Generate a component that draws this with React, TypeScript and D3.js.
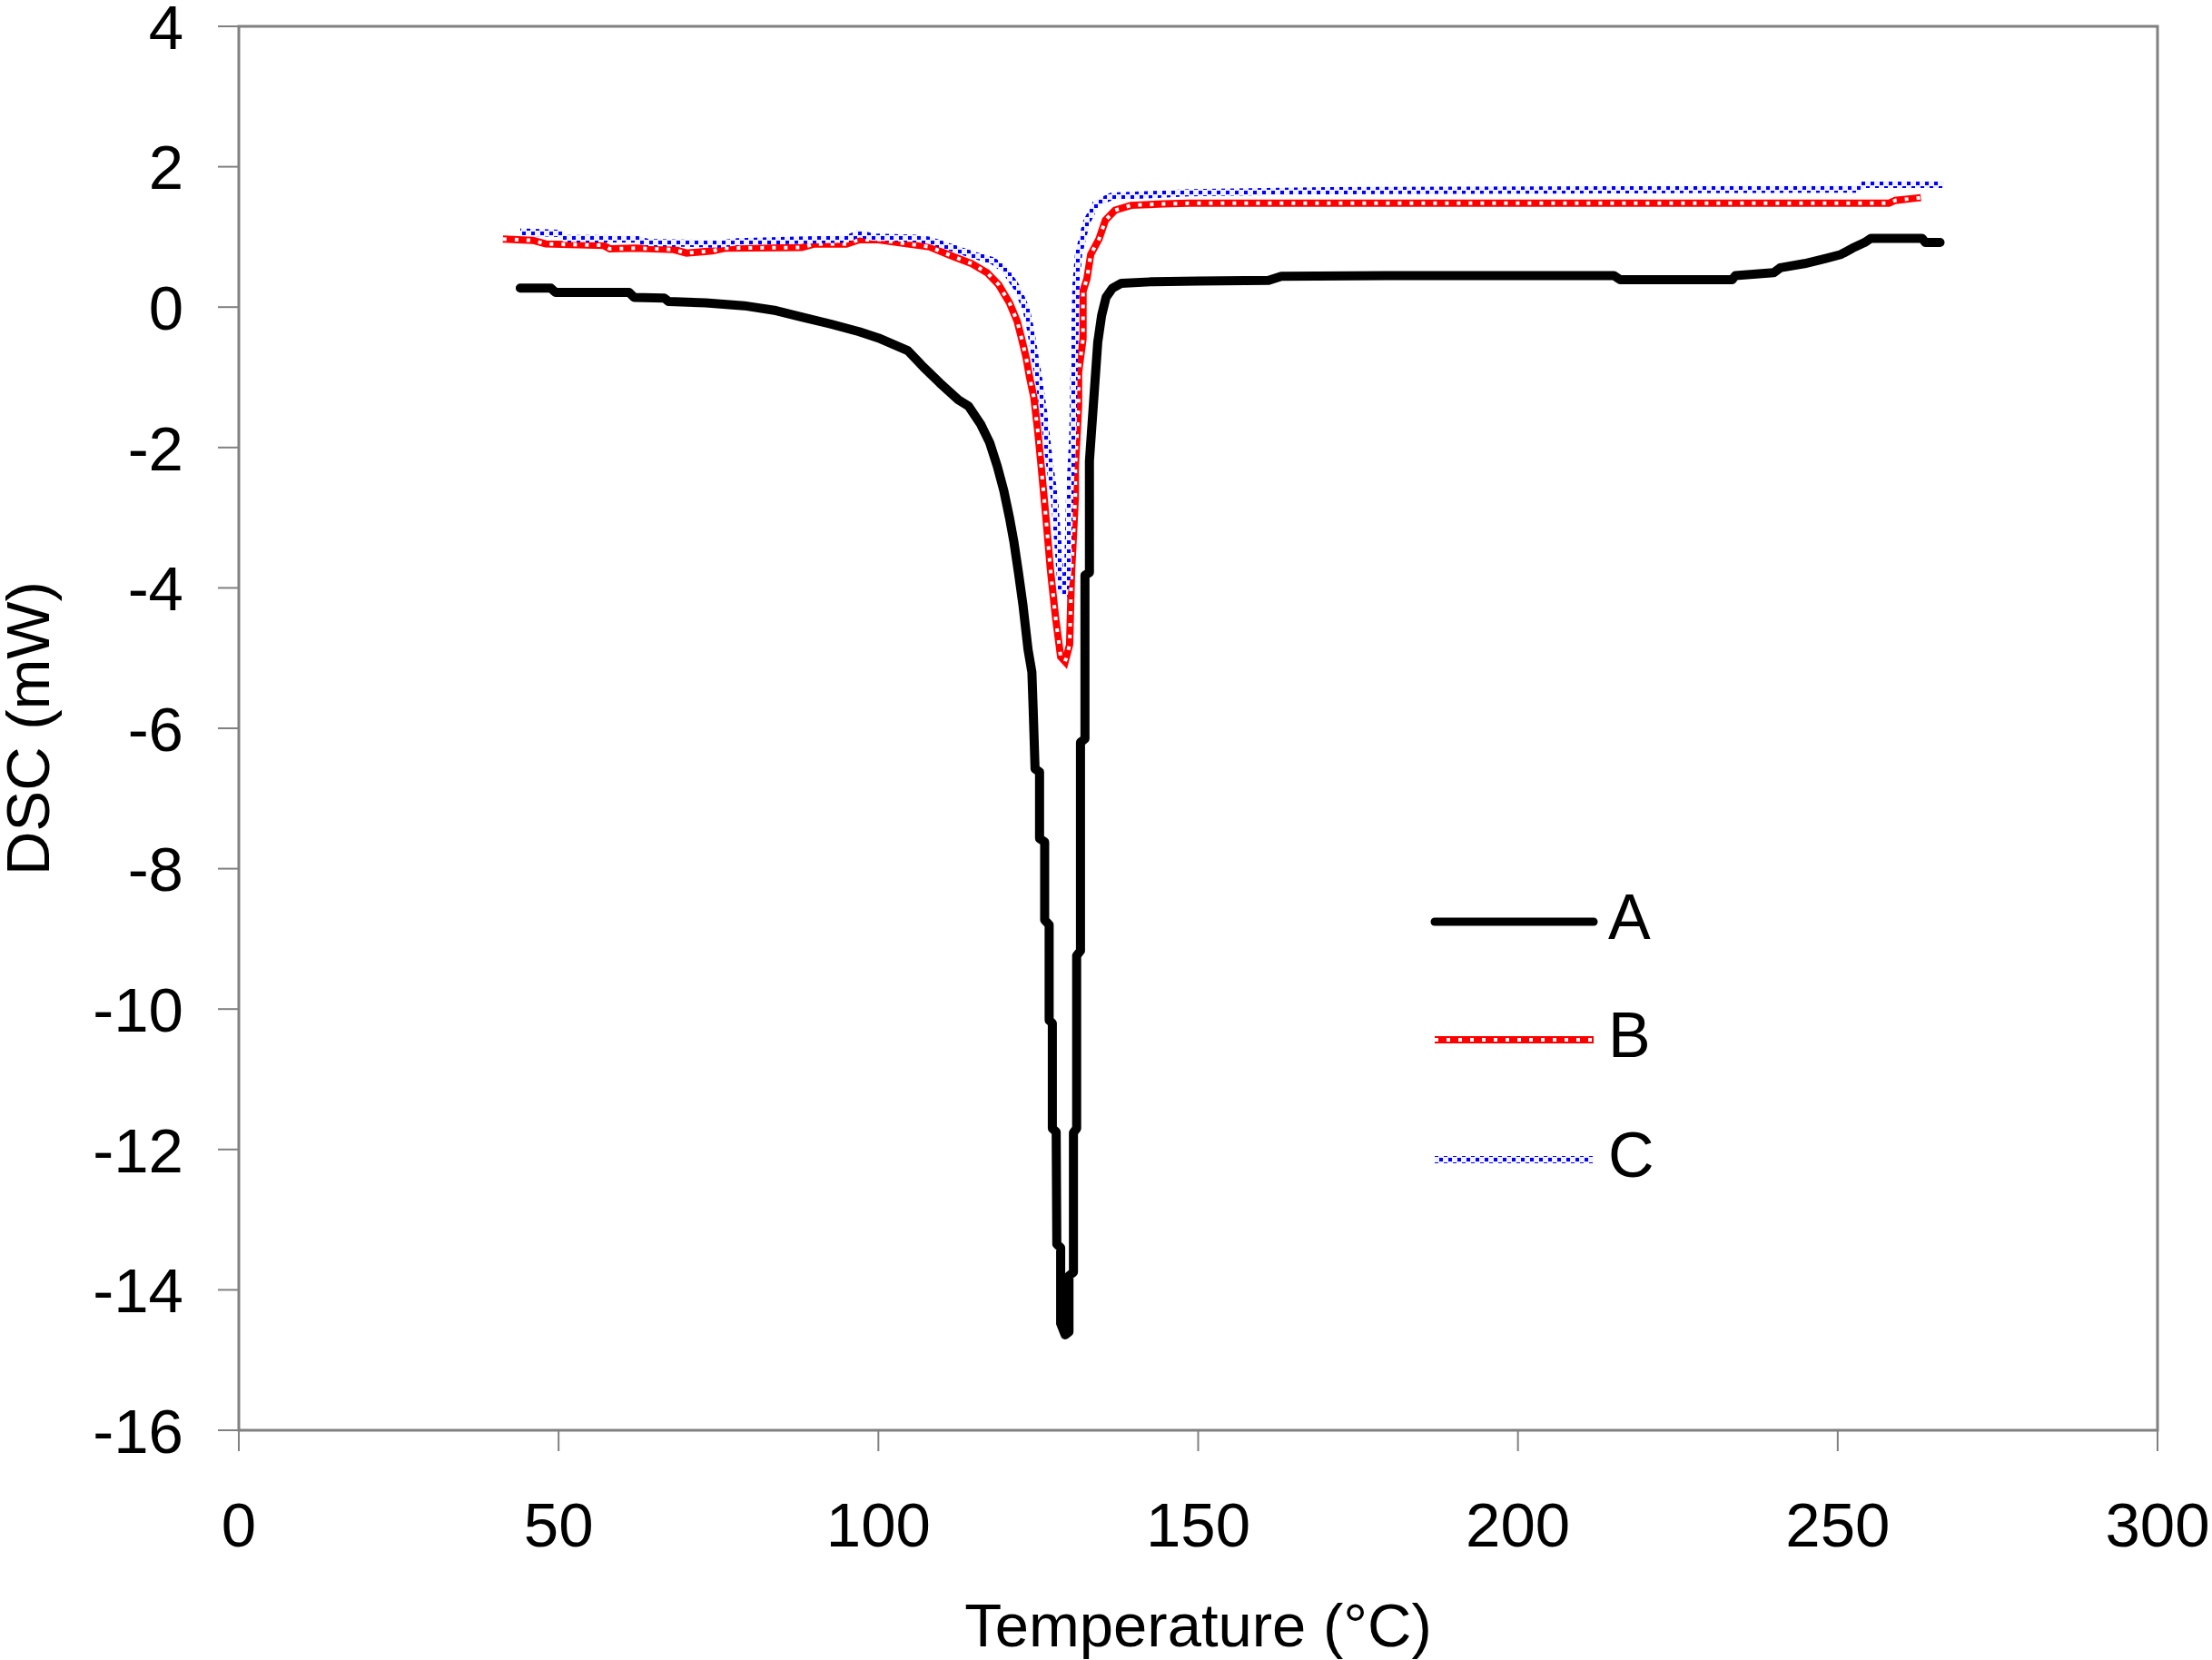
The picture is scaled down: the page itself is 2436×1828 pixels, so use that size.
import * as d3 from 'd3';

// sample A
const tempA = [44, 48.8, 49.5, 61, 61.8, 66.5, 67.2, 73, 79, 84, 88, 92.5, 97, 100, 104.6, 107, 109.6, 112.5, 114.1, 116, 117.4, 118.6, 119.6, 120.5, 121.2, 121.9, 122.6, 123.4, 124, 124.2, 124.5, 125.2, 125.2, 126, 126, 126.7, 126.7, 127.2, 127.2, 127.8, 127.9, 128.5, 128.5, 129.2, 129.8, 129.8, 130.5, 130.5, 131, 131, 131.6, 131.6, 132.3, 132.3, 133, 133, 133.8, 134.3, 134.9, 135.6, 136.6, 138, 142.5, 150, 161, 163, 185, 215, 216, 233.5, 234, 240, 241, 244.8, 248, 250.5, 252.3, 254.2, 255.2, 263.2, 263.7, 266];
const dscA = [0.27, 0.27, 0.21, 0.21, 0.14, 0.13, 0.08, 0.06, 0.02, -0.05, -0.14, -0.24, -0.35, -0.44, -0.62, -0.85, -1.08, -1.32, -1.41, -1.67, -1.93, -2.27, -2.61, -3.0, -3.35, -3.78, -4.24, -4.88, -5.2, -5.72, -6.58, -6.62, -7.57, -7.62, -8.73, -8.8, -10.16, -10.2, -11.7, -11.75, -13.35, -13.4, -14.48, -14.64, -14.6, -13.8, -13.75, -11.76, -11.7, -9.24, -9.17, -6.2, -6.15, -3.82, -3.78, -2.19, -1.15, -0.5, -0.12, 0.14, 0.27, 0.34, 0.36, 0.37, 0.38, 0.44, 0.45, 0.45, 0.39, 0.39, 0.45, 0.49, 0.56, 0.62, 0.69, 0.75, 0.84, 0.92, 0.98, 0.98, 0.92, 0.92];

// sample B
const tempB = [41.3, 46, 48, 57, 58, 62, 68, 70, 74, 76, 88, 90, 95, 97, 100, 104.6, 108, 111.7, 114.6, 117, 118.8, 120.5, 121.7, 122.4, 123.1, 123.6, 124.3, 124.9, 125.5, 126.2, 126.9, 127.7, 128.5, 129.2, 129.9, 130.2, 130.8, 130.8, 131.3, 131.3, 132, 132, 132.6, 133.2, 134.5, 135.5, 137, 139.5, 144.6, 148.5, 200, 258, 259, 262, 263];
const dscB = [0.97, 0.95, 0.9, 0.88, 0.83, 0.84, 0.82, 0.77, 0.8, 0.84, 0.85, 0.9, 0.9, 0.96, 0.96, 0.9, 0.86, 0.72, 0.62, 0.49, 0.32, 0.06, -0.2, -0.45, -0.72, -0.98, -1.28, -1.75, -2.31, -3.0, -3.74, -4.42, -4.98, -5.05, -4.81, -3.78, -2.7, -2.27, -1.41, -0.93, -0.45, 0.23, 0.4, 0.75, 0.97, 1.24, 1.38, 1.45, 1.47, 1.48, 1.48, 1.48, 1.52, 1.55, 1.56];

// sample C
const tempC = [44, 50, 51, 62, 64, 75, 78, 90, 95, 97, 99, 106, 108, 111.7, 114.6, 117.9, 119.8, 121.7, 123.1, 123.8, 124.5, 125.2, 125.9, 126.7, 127.5, 128.1, 128.6, 129.1, 129.6, 129.9, 130.4, 130.6, 130.9, 131.3, 132.5, 134, 136.5, 142, 148.5, 170, 253, 254, 266.5];
const dscC = [1.07, 1.05, 0.98, 0.97, 0.92, 0.9, 0.93, 0.96, 0.97, 1.05, 1.0, 0.98, 0.95, 0.84, 0.75, 0.66, 0.53, 0.27, -0.03, -0.32, -0.72, -1.1, -1.54, -2.19, -2.7, -3.39, -4.04, -4.06, -3.78, -2.7, -1.84, -0.89, 0.32, 0.75, 1.2, 1.47, 1.58, 1.6, 1.63, 1.66, 1.68, 1.75, 1.75];

const xTicks = [0, 50, 100, 150, 200, 250, 300];
const yTicks = [4, 2, 0, -2, -4, -6, -8, -10, -12, -14, -16];
const seriesNames = ['A', 'B', 'C'];

const W = 2436;
const H = 1828;
const margin = {top: 29, right: 60, bottom: 253, left: 263};
const font = '"Liberation Sans", Arial, sans-serif';

export default function App() {
  const x = d3.scaleLinear().domain([0, 300]).range([margin.left, W - margin.right]);
  const y = d3.scaleLinear().domain([-16, 4]).range([H - margin.bottom, margin.top]);

  const line = d3
    .line<[number, number]>()
    .x(d => x(d[0]))
    .y(d => y(d[1]));

  const pathA = line(tempA.map((t, i) => [t, dscA[i]]));
  const pathB = line(tempB.map((t, i) => [t, dscB[i]]));
  const pathC = line(tempC.map((t, i) => [t, dscC[i]]));

  const x0 = x(0);
  const x1 = x(300);
  const yTop = y(4);
  const yBot = y(-16);

  // legend rows
  const legY = [1015, 1145, 1277];
  const legX0 = 1580;
  const legX1 = 1755;

  const drawB = (d: string, key: string) => (
    <g key={key}>
      <path d={d} fill="none" stroke="#ff0000" strokeWidth={8} />
      <path d={d} fill="none" stroke="#ffffff" strokeWidth={4} strokeDasharray="4 9" />
    </g>
  );
  const drawC = (d: string, key: string) => (
    <path key={key} d={d} fill="none" stroke="url(#cDots)" strokeWidth={8} />
  );

  return (
    <div style={{position: 'absolute', left: 0, top: 0}}>
      <svg width={W} height={H} style={{display: 'block', background: '#fff'}}>
        <defs>
          <pattern id="cDots" patternUnits="userSpaceOnUse" width={10} height={10}>
            <rect width={10} height={10} fill="#f2f2ff" />
            <rect x={0} y={0} width={4} height={4} fill="#0000ff" />
            <rect x={5} y={5} width={4} height={4} fill="#0000ff" />
          </pattern>
        </defs>

        {/* y ticks */}
        {yTicks.map(v => (
          <g key={'y' + v}>
            <line x1={x0 - 23} x2={x0} y1={y(v)} y2={y(v)} stroke="#808080" strokeWidth={2} />
            <text
              x={202}
              y={y(v)}
              dy="0.36em"
              textAnchor="end"
              fontFamily={font}
              fontSize={69}
              fill="#000">
              {v}
            </text>
          </g>
        ))}

        {/* x ticks */}
        {xTicks.map(v => (
          <g key={'x' + v}>
            <line x1={x(v)} x2={x(v)} y1={yBot} y2={yBot + 23} stroke="#808080" strokeWidth={2} />
            <text
              x={x(v)}
              y={1703}
              textAnchor="middle"
              fontFamily={font}
              fontSize={69}
              fill="#000">
              {v}
            </text>
          </g>
        ))}

        {/* plot frame */}
        <rect
          x={x0}
          y={yTop}
          width={x1 - x0}
          height={yBot - yTop}
          fill="none"
          stroke="#808080"
          strokeWidth={3}
        />

        {/* series */}
        <path
          d={pathA}
          fill="none"
          stroke="#000"
          strokeWidth={10}
          strokeLinejoin="round"
          strokeLinecap="round"
        />
        {drawB(pathB, 'b')}
        {drawC(pathC, 'c')}

        {/* legend */}
        <line x1={legX0} x2={legX1} y1={legY[0]} y2={legY[0]} stroke="#000" strokeWidth={9} strokeLinecap="round" />
        {drawB(`M${legX0},${legY[1]}H${legX1}`, 'lb')}
        {drawC(`M${legX0},${legY[2]}H${legX1}`, 'lc')}
        {seriesNames.map((s, i) => (
          <text key={s} x={1771} y={legY[i] + 19} fontFamily={font} fontSize={70} fill="#000">
            {s}
          </text>
        ))}

        {/* axis titles */}
        <text
          x={(x0 + x1) / 2}
          y={1813}
          textAnchor="middle"
          fontFamily={font}
          fontSize={67}
          fill="#000">
          Temperature (°C)
        </text>
        <text
          transform={`translate(54, ${(yTop + yBot) / 2}) rotate(-90)`}
          textAnchor="middle"
          fontFamily={font}
          fontSize={67}
          fill="#000">
          DSC (mW)
        </text>
      </svg>
    </div>
  );
}
